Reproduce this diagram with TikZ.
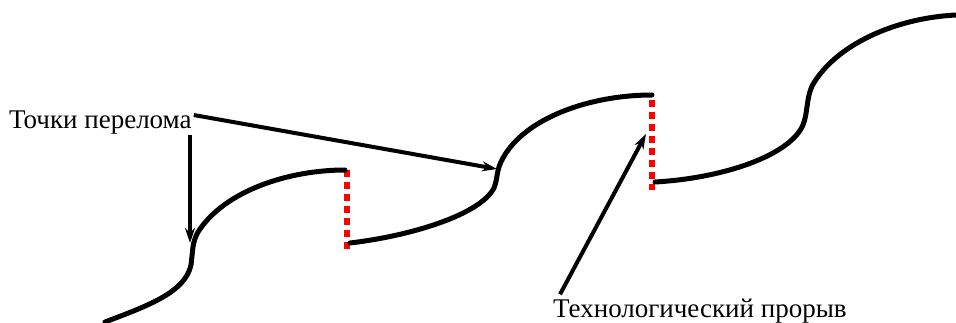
\documentclass[tikz,border=0pt]{standalone}
\usepackage{fontspec}
\setmainfont{Liberation Serif}
\usetikzlibrary{arrows.meta,positioning,calc}

\begin{document}
\begin{tikzpicture}[
    x=1pt, y=-1pt,
    >={Stealth[length=15pt,width=10pt]},
    curve/.style={line width=5pt, line cap=round, line join=round},
    jump/.style={draw=red, line width=6.5pt, dash pattern=on 7pt off 5pt},
    callout/.style={->, line width=4pt},
    lbl/.style={inner sep=0pt, font=\fontsize{27}{30}\selectfont},
  ]
  \useasboundingbox (0,0) rectangle (956,323);
  % labels
  \node[lbl, anchor=base west] (brk) at (9,129) {Точки перелома};
  \node[lbl, anchor=base west] (leap) at (553,317) {Технологический прорыв};

  % points on the curve
  \coordinate (k1) at (190,243);
  \coordinate (k2) at (497,169);
  \coordinate (j2) at (646,134);

  % red gaps between the waves
  \draw[jump] (347,170) -- (347,252);
  \draw[jump] (652,100) -- (652,190);

  % three waves
  \draw[curve] (105,322) .. controls (150,305) and (185,292) .. (191,265)
    .. controls (193,250) and (192,243) .. (198,232)
    .. controls (225,190) and (290,170) .. (345,170);
  \draw[curve] (350,243) .. controls (410,236) and (480,215) .. (494,188)
    .. controls (498,178) and (496,170) .. (503,158)
    .. controls (525,118) and (590,95) .. (652,95);
  \draw[curve] (655,182) .. controls (725,178) and (790,155) .. (803,125)
    .. controls (808,112) and (806,100) .. (812,86)
    .. controls (835,45) and (895,18) .. (956,15);

  % pointers
  \draw[callout] (k1 |- brk.south) -- (k1);
  \draw[callout] ($(brk.east)+(2,-8)$) -- (k2);
  \draw[callout] ($(leap.north west)+(7,-4)$) -- (j2);
\end{tikzpicture}
\end{document}
